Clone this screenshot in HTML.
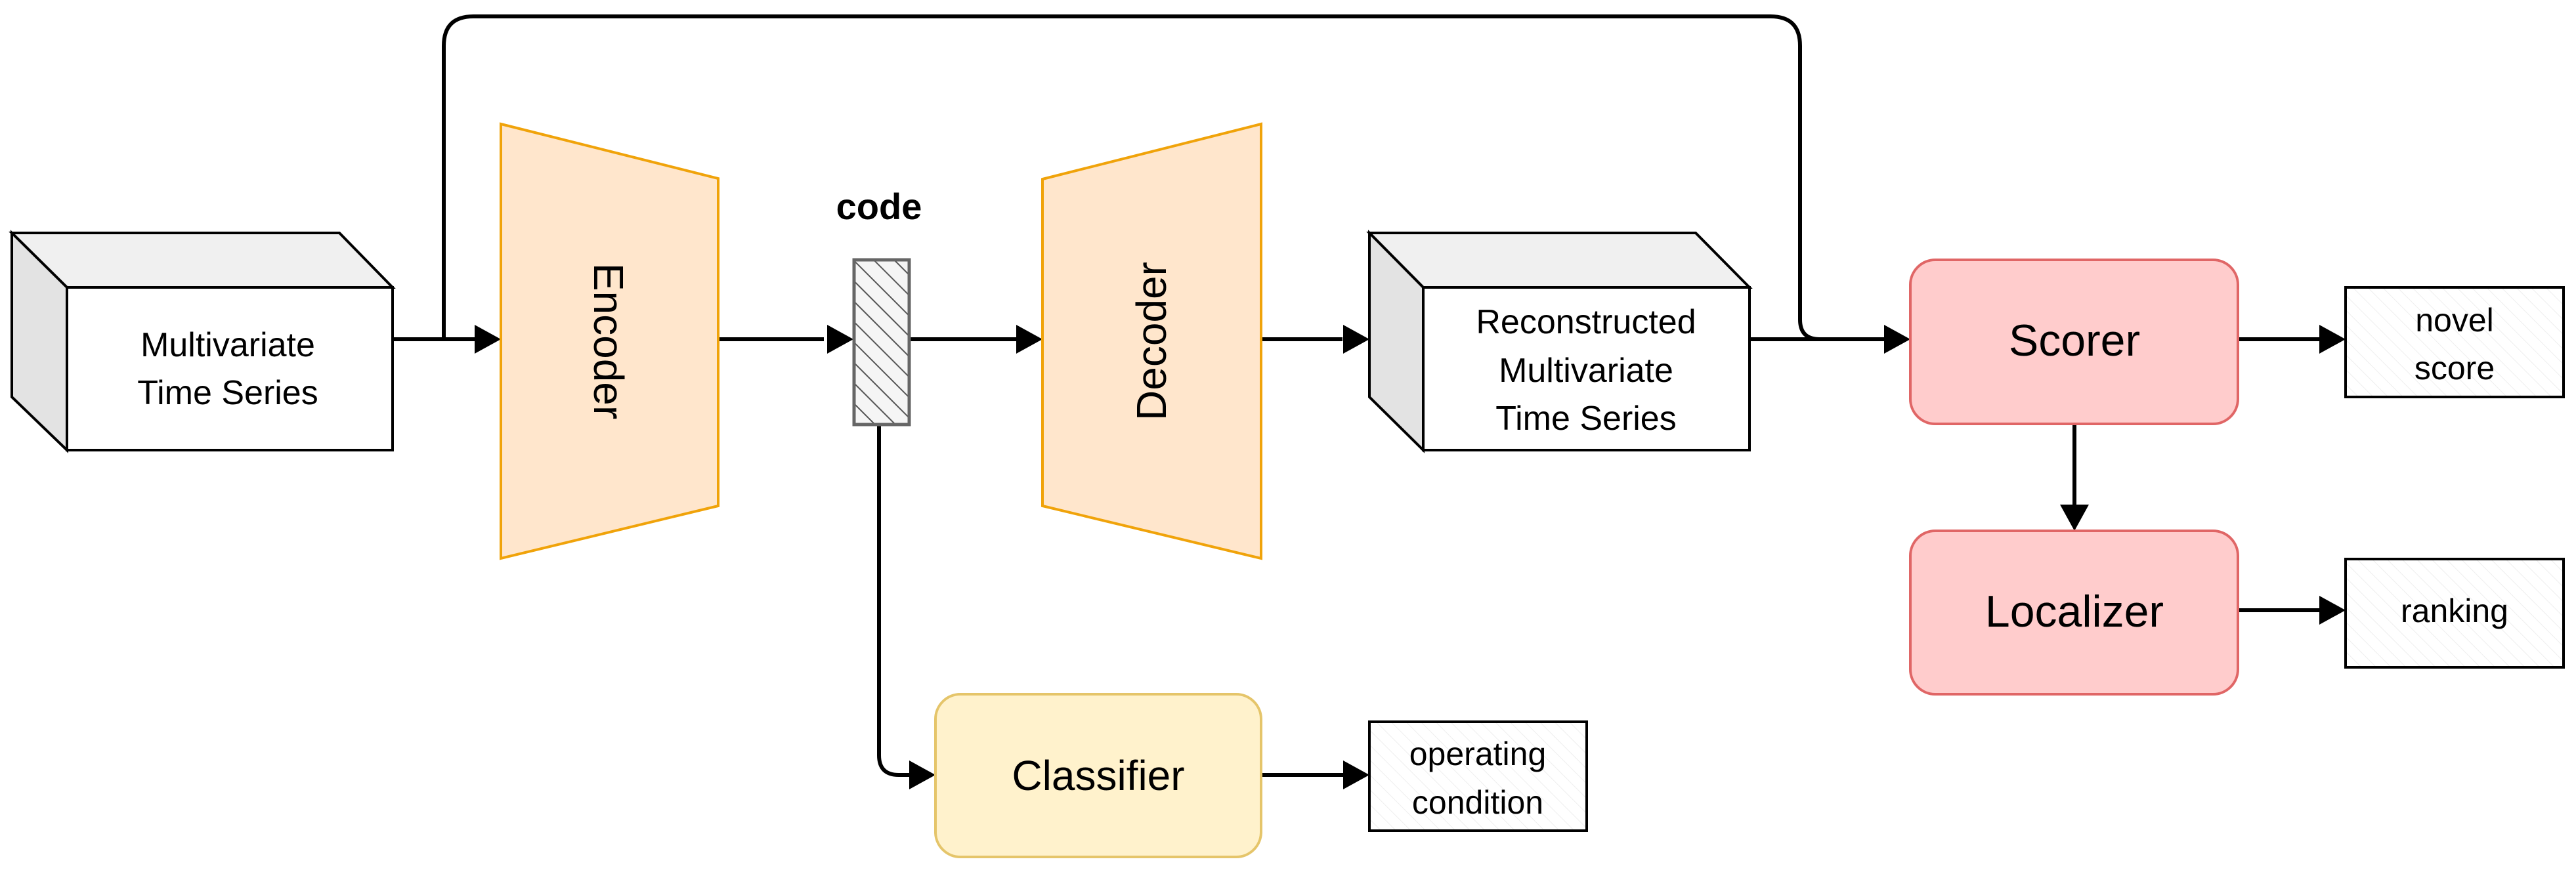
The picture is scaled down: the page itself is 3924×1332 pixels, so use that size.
<!DOCTYPE html>
<html><head><meta charset="utf-8"><style>
html,body{margin:0;padding:0;background:#fff;}
svg{display:block;}
text{font-family:"Liberation Sans",Arial,sans-serif;fill:#000;}
</style></head><body>
<svg width="3924" height="1332" viewBox="0 0 3924 1332" xmlns="http://www.w3.org/2000/svg">
<defs>
<pattern id="h1" patternUnits="userSpaceOnUse" width="22" height="22" patternTransform="rotate(-45)">
<rect width="22" height="22" fill="#f5f5f5"/><line x1="0" y1="0" x2="0" y2="22" stroke="#555" stroke-width="4"/></pattern>
<pattern id="h2" patternUnits="userSpaceOnUse" width="16" height="16" patternTransform="rotate(-45)">
<rect width="16" height="16" fill="#fff"/><line x1="0" y1="0" x2="0" y2="16" stroke="#eee" stroke-width="2"/></pattern>
</defs>
<g stroke="#000" stroke-width="6" fill="none">
<path d="M676 517 V70 Q676 25 721 25 H2697 Q2742 25 2742 70 V487 Q2742 517 2772 517"/>
<line x1="598" y1="517" x2="725" y2="517"/>
<line x1="1094" y1="517" x2="1255" y2="517"/>
<line x1="1385" y1="517" x2="1550" y2="517"/>
<line x1="1921" y1="517" x2="2045" y2="517"/>
<line x1="2665" y1="517" x2="2872" y2="517"/>
<line x1="3409" y1="517" x2="3535" y2="517"/>
<line x1="3409" y1="930" x2="3535" y2="930"/>
<line x1="3160" y1="646" x2="3160" y2="771"/>
<path d="M1339 647 V1151 Q1339 1181 1369 1181 H1388"/>
<line x1="1921" y1="1181" x2="2048" y2="1181"/>
</g>
<g fill="#000">
<polygon points="763,517 723,495 723,539"/>
<polygon points="1300,517 1260,495 1260,539"/>
<polygon points="1588,517 1548,495 1548,539"/>
<polygon points="2086,517 2046,495 2046,539"/>
<polygon points="2910,517 2870,495 2870,539"/>
<polygon points="3573,517 3533,495 3533,539"/>
<polygon points="3573,930 3533,908 3533,952"/>
<polygon points="3160,809 3138,769 3182,769"/>
<polygon points="1425,1181 1385,1159 1385,1203"/>
<polygon points="2086,1181 2046,1159 2046,1203"/>
</g>
<g stroke="#000" stroke-width="4">
<polygon points="18,355 517,355 598,438 102,438" fill="#f0f0f0"/>
<polygon points="18,355 102,438 102,686 18,605" fill="#e3e3e3"/>
<rect x="102" y="438" width="496" height="248" fill="#fff"/>
</g>
<text x="347" y="543" font-size="52" text-anchor="middle">Multivariate</text>
<text x="347" y="616" font-size="52" text-anchor="middle">Time Series</text>
<polygon points="763,189 1094,272 1094,771 763,851" fill="#ffe6cc" stroke="#f0a30a" stroke-width="4"/>
<text x="0" y="0" font-size="64" text-anchor="middle" transform="translate(905,520) rotate(90)">Encoder</text>
<text x="1339" y="334" font-size="56" font-weight="600" text-anchor="middle">code</text>
<rect x="1301" y="396" width="84" height="251" fill="url(#h1)" stroke="#666" stroke-width="5"/>
<polygon points="1588,273 1921,189 1921,851 1588,771" fill="#ffe6cc" stroke="#f0a30a" stroke-width="4"/>
<text x="0" y="0" font-size="64" text-anchor="middle" transform="translate(1776,520) rotate(-90)">Decoder</text>
<g stroke="#000" stroke-width="4">
<polygon points="2086,355 2583,355 2665,438 2168,438" fill="#f0f0f0"/>
<polygon points="2086,355 2168,438 2168,686 2086,605" fill="#e3e3e3"/>
<rect x="2168" y="438" width="497" height="248" fill="#fff"/>
</g>
<text x="2416" y="508" font-size="52" text-anchor="middle">Reconstructed</text>
<text x="2416" y="582" font-size="52" text-anchor="middle">Multivariate</text>
<text x="2416" y="655" font-size="52" text-anchor="middle">Time Series</text>
<rect x="2910" y="396" width="499" height="250" rx="38" fill="#ffcccc" stroke="#e06666" stroke-width="4"/>
<text x="3160" y="542" font-size="68" text-anchor="middle">Scorer</text>
<rect x="2910" y="809" width="499" height="249" rx="38" fill="#ffcccc" stroke="#e06666" stroke-width="4"/>
<text x="3160" y="955" font-size="68" text-anchor="middle">Localizer</text>
<rect x="1425" y="1058" width="496" height="248" rx="38" fill="#fff2cc" stroke="#e5c56a" stroke-width="4"/>
<text x="1673" y="1204" font-size="64" text-anchor="middle">Classifier</text>
<g stroke="#000" stroke-width="4" fill="url(#h2)">
<rect x="3573" y="438" width="332" height="167"/>
<rect x="3573" y="852" width="332" height="165"/>
<rect x="2086" y="1100" width="331" height="166"/>
</g>
<text x="3739" y="505" font-size="50" text-anchor="middle">novel</text>
<text x="3739" y="578" font-size="50" text-anchor="middle">score</text>
<text x="3739" y="948" font-size="50" text-anchor="middle">ranking</text>
<text x="2251" y="1166" font-size="50" text-anchor="middle">operating</text>
<text x="2251" y="1240" font-size="50" text-anchor="middle">condition</text>
</svg>
</body></html>
